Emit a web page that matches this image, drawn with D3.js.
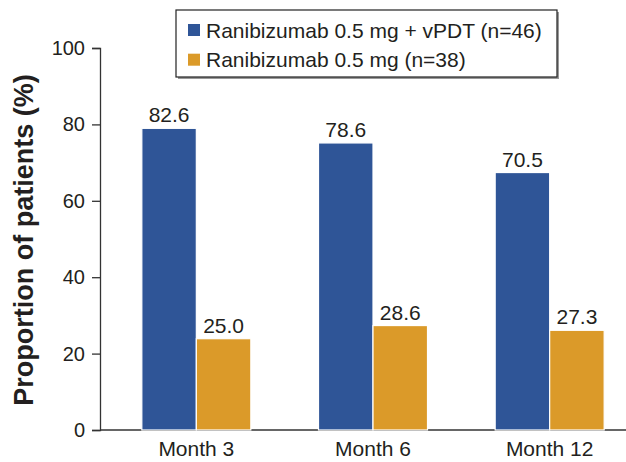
<!DOCTYPE html>
<html>
<head>
<meta charset="utf-8">
<script src="https://cdn.jsdelivr.net/npm/d3@7"></script>
<style>
  body { margin: 0; background: #fff; }
  text { font-family: "Liberation Sans", Arial, sans-serif; fill: #231f20; }
</style>
</head>
<body>
<div id="viz-container"></div>
<script>
let months = ['Month 3', 'Month 6', 'Month 12'];
let seriesNames = ['Ranibizumab 0.5 mg + vPDT (n=46)', 'Ranibizumab 0.5 mg (n=38)'];
let comboValues = [82.6, 78.6, 70.5];
let monoValues = [25.0, 28.6, 27.3];
let yTicks = [0, 20, 40, 60, 80, 100];
let colors = ['#2f5597', '#db9a29'];

let viz = d3.select('#viz-container')
  .append('svg')
    .attr('width', 626)
    .attr('height', 462)
;

let rows = months.map(function(m, i){
  return {month: m, values: [comboValues[i], monoValues[i]]};
});

let y = d3.scaleLinear().domain([0, 100]).range([430, 48]);
// the published bars sit a bit below their printed values, so they use a slightly stretched scale
let yBar = d3.scaleLinear().domain([0, 104.6]).range([430, 48]);

let x0 = d3.scaleBand().domain(months).range([108, 638]);
let x1 = d3.scaleBand().domain([0, 1]).range([0, 109]);

// y axis
let yAxis = viz.append('g')
  .attr('transform', 'translate(100,0)')
  .call(d3.axisLeft(y).tickValues(yTicks).tickSize(8).tickPadding(7));
yAxis.select('.domain').attr('stroke', '#333').attr('stroke-width', 1.3);
yAxis.selectAll('.tick line').attr('stroke', '#333').attr('stroke-width', 1.3);
yAxis.selectAll('.tick text')
  .attr('font-size', 20)
  .attr('font-family', '"Liberation Sans", Arial, sans-serif')
  .attr('fill', '#231f20');

// x axis line
viz.append('line')
  .attr('x1', 100)
  .attr('x2', 626)
  .attr('y1', y(0))
  .attr('y2', y(0))
  .attr('stroke', '#333')
  .attr('stroke-width', 1.3);

let groups = viz.selectAll('g.group').data(rows).enter()
  .append('g')
    .attr('class', 'group')
    .attr('transform', function(d){ return 'translate(' + (x0(d.month) + x0.bandwidth() / 2 - 54.5) + ',0)'; });

groups.selectAll('rect').data(function(d){ return d.values; }).enter()
  .append('rect')
    .attr('x', function(d, i){ return x1(i); })
    .attr('y', function(d){ return yBar(d); })
    .attr('width', x1.bandwidth())
    .attr('height', function(d){ return yBar(0) - yBar(d); })
    .attr('fill', function(d, i){ return colors[i]; })
    .attr('stroke', 'white')
    .attr('stroke-width', 1.2);

groups.selectAll('text.val').data(function(d){ return d.values; }).enter()
  .append('text')
    .attr('class', 'val')
    .attr('x', function(d, i){ return x1(i) + x1.bandwidth() / 2; })
    .attr('y', function(d){ return yBar(d) - 6; })
    .attr('text-anchor', 'middle')
    .attr('font-size', 21)
    .text(function(d){ return d.toFixed(1); });

// month labels
viz.selectAll('text.month').data(months).enter()
  .append('text')
    .attr('class', 'month')
    .attr('x', function(d){ return x0(d) + x0.bandwidth() / 2; })
    .attr('y', 456)
    .attr('text-anchor', 'middle')
    .attr('font-size', 21)
    .text(function(d){ return d; });

// y title
viz.append('text')
  .attr('transform', 'translate(33,240) rotate(-90)')
  .attr('text-anchor', 'middle')
  .attr('font-size', 27)
  .attr('font-weight', 'bold')
  .text('Proportion of patients (%)');

// legend
let legend = viz.append('g');
legend.append('rect')
  .attr('x', 178)
  .attr('y', 12)
  .attr('width', 381)
  .attr('height', 67)
  .attr('fill', '#999');
legend.append('rect')
  .attr('x', 176)
  .attr('y', 10)
  .attr('width', 381)
  .attr('height', 67)
  .attr('fill', 'white')
  .attr('stroke', '#222')
  .attr('stroke-width', 1.2);

let items = legend.selectAll('g.item').data(seriesNames).enter()
  .append('g')
    .attr('class', 'item')
    .attr('transform', function(d, i){ return 'translate(188,' + (30 + i * 29.7) + ')'; });
items.append('rect')
  .attr('x', 0)
  .attr('y', -6)
  .attr('width', 12)
  .attr('height', 12)
  .attr('fill', function(d, i){ return colors[i]; });
items.append('text')
  .attr('x', 18)
  .attr('y', 7.5)
  .attr('font-size', 21)
  .text(function(d){ return d; });
</script>
</body>
</html>
